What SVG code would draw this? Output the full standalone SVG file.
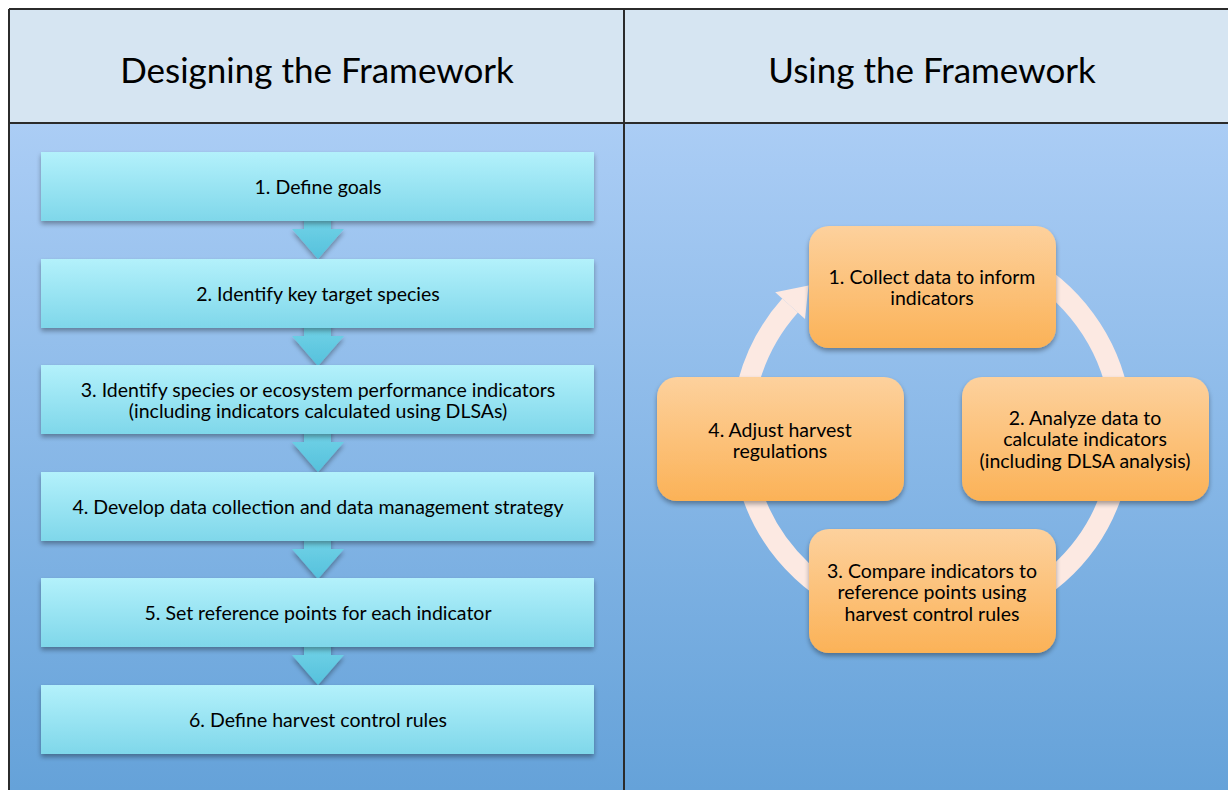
<svg xmlns="http://www.w3.org/2000/svg" width="1228" height="790" viewBox="0 0 1228 790">
  <defs>
    <linearGradient id="bodyBg" x1="0" y1="0" x2="0" y2="1">
      <stop offset="0" stop-color="#abcdf5"/>
      <stop offset="1" stop-color="#65a2d9"/>
    </linearGradient>
    <linearGradient id="stepFill" x1="0" y1="0" x2="0" y2="1">
      <stop offset="0" stop-color="#b3f1fb"/>
      <stop offset="1" stop-color="#7fd7ea"/>
    </linearGradient>
    <linearGradient id="downFill" x1="0" y1="0" x2="0" y2="1">
      <stop offset="0" stop-color="#74d4e8"/>
      <stop offset="1" stop-color="#55c1dc"/>
    </linearGradient>
    <linearGradient id="cycleFill" x1="0" y1="0" x2="0" y2="1">
      <stop offset="0" stop-color="#fdd19d"/>
      <stop offset="1" stop-color="#fbb257"/>
    </linearGradient>
    <filter id="shadow" x="-10%" y="-20%" width="120%" height="150%">
      <feGaussianBlur in="SourceAlpha" stdDeviation="2.5"/>
      <feOffset dx="0" dy="3" result="b"/>
      <feComponentTransfer><feFuncA type="linear" slope="0.35"/></feComponentTransfer>
      <feMerge><feMergeNode/><feMergeNode in="SourceGraphic"/></feMerge>
    </filter>
  </defs>
  <style>
    .hdr { font-family: Lato, "Open Sans", "Liberation Sans", sans-serif; font-size: 35px; fill: #000; text-anchor: middle; }
    .step { fill: url(#stepFill); filter: url(#shadow); }
    .stepTxt { font-family: Lato, "Open Sans", "Liberation Sans", sans-serif; font-size: 19.5px; fill: #000; text-anchor: middle; }
    .down { fill: url(#downFill); filter: url(#shadow); }
    .cyc { fill: url(#cycleFill); filter: url(#shadow); }
    .cycTxt { font-family: Lato, "Open Sans", "Liberation Sans", sans-serif; font-size: 19.5px; fill: #000; text-anchor: middle; }
    .ring { fill: none; stroke: #fce9e2; stroke-width: 21; }
    .rule { stroke: #2b2b2b; stroke-width: 2; fill: none; }
  </style>

  <!-- page background and table frame -->
  <rect x="0" y="0" width="1228" height="790" fill="#ffffff"/>
  <rect x="9" y="9" width="1219" height="114" fill="#d6e5f2"/>
  <rect x="9" y="123" width="1219" height="667" fill="url(#bodyBg)"/>
  <line class="rule" x1="9" y1="9" x2="1228" y2="9"/>
  <line class="rule" x1="9" y1="123" x2="1228" y2="123"/>
  <line class="rule" x1="9" y1="9" x2="9" y2="790"/>
  <line class="rule" x1="624" y1="9" x2="624" y2="790"/>

  <text class="hdr" x="317" y="83">Designing the Framework</text>
  <text class="hdr" x="932" y="83">Using the Framework</text>

  <!-- connectors: down arrows between steps, and the cycle ring -->
  <g id="connectors">
    <path class="down" d="M304,215 H331 V229 H344 L318,259 L292,229 H304 Z"/>
    <path class="down" d="M304,322 H331 V336 H344 L318,366 L292,336 H304 Z"/>
    <path class="down" d="M304,428 H331 V442 H344 L318,472 L292,442 H304 Z"/>
    <path class="down" d="M304,535 H331 V549 H344 L318,579 L292,549 H304 Z"/>
    <path class="down" d="M304,641 H331 V655 H344 L318,685 L292,655 H304 Z"/>
    <path class="ring" d="M823,276.4 A190,190 0 1 1 790.1,305.6"/>
    <polygon fill="#fce9e2" points="775.2,292.3 805,318.9 808.5,285.5"/>
  </g>

  <!-- design steps -->
  <g id="step1">
    <rect class="step" x="41" y="152" width="553" height="69"/>
    <text class="stepTxt" x="318" y="194">1. Define goals</text>
  </g>
  <g id="step2">
    <rect class="step" x="41" y="259" width="553" height="69"/>
    <text class="stepTxt" x="318" y="301">2. Identify key target species</text>
  </g>
  <g id="step3">
    <rect class="step" x="41" y="365" width="553" height="69"/>
    <text class="stepTxt" x="318" y="397">3. Identify species or ecosystem performance indicators</text>
    <text class="stepTxt" x="318" y="418">(including indicators calculated using DLSAs)</text>
  </g>
  <g id="step4">
    <rect class="step" x="41" y="472" width="553" height="69"/>
    <text class="stepTxt" x="318" y="514">4. Develop data collection and data management strategy</text>
  </g>
  <g id="step5">
    <rect class="step" x="41" y="578" width="553" height="69"/>
    <text class="stepTxt" x="318" y="620">5. Set reference points for each indicator</text>
  </g>
  <g id="step6">
    <rect class="step" x="41" y="685" width="553" height="69"/>
    <text class="stepTxt" x="318" y="727">6. Define harvest control rules</text>
  </g>

  <!-- usage cycle -->
  <g id="cycle1">
    <rect class="cyc" x="809" y="226" width="247" height="122" rx="20"/>
    <text class="cycTxt" x="932" y="284">1. Collect data to inform</text>
    <text class="cycTxt" x="932" y="305">indicators</text>
  </g>
  <g id="cycle2">
    <rect class="cyc" x="962" y="377" width="247" height="124" rx="20"/>
    <text class="cycTxt" x="1085" y="425">2. Analyze data to</text>
    <text class="cycTxt" x="1085" y="446">calculate indicators</text>
    <text class="cycTxt" x="1085" y="468">(including DLSA analysis)</text>
  </g>
  <g id="cycle3">
    <rect class="cyc" x="809" y="529" width="247" height="124" rx="20"/>
    <text class="cycTxt" x="932" y="578">3. Compare indicators to</text>
    <text class="cycTxt" x="932" y="599">reference points using</text>
    <text class="cycTxt" x="932" y="621">harvest control rules</text>
  </g>
  <g id="cycle4">
    <rect class="cyc" x="657" y="377" width="247" height="124" rx="20"/>
    <text class="cycTxt" x="780" y="437">4. Adjust harvest</text>
    <text class="cycTxt" x="780" y="458">regulations</text>
  </g>
</svg>
